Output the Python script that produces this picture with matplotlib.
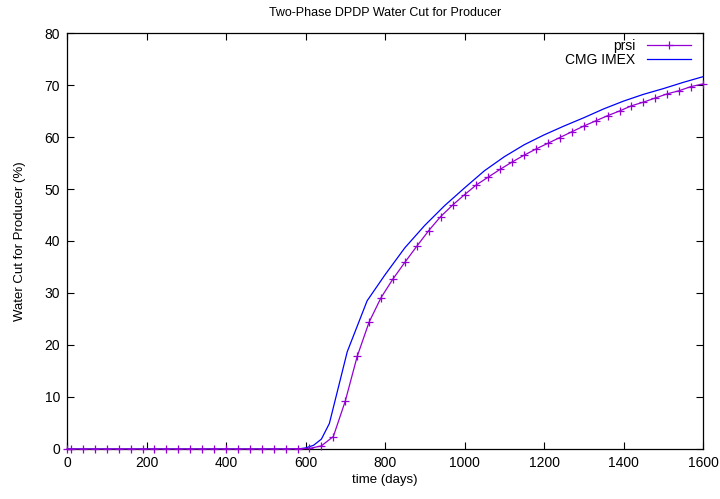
import numpy as np
from matplotlib import pyplot as plt

plt.rcParams['font.family'] = ['Liberation Sans', 'DejaVu Sans']

# prsi results (markers every 30 days)
prsi_time = [0, 10, 40, 70, 100, 130, 160, 190, 220, 250, 280, 310, 340, 370,
             400, 430, 460, 490, 520, 550, 580, 610, 640, 670, 700, 730, 760,
             790, 820, 850, 880, 910, 940, 970, 1000, 1030, 1060, 1090, 1120,
             1150, 1180, 1210, 1240, 1270, 1300, 1330, 1360, 1390, 1420, 1450,
             1480, 1510, 1540, 1570, 1600]
prsi_wcut = [0, 0, 0, 0, 0, 0, 0, 0, 0, 0, 0, 0, 0, 0,
             0, 0, 0, 0, 0, 0, 0.05, 0.1, 0.6, 2.4, 9.2, 17.8, 24.4,
             29.1, 32.7, 35.9, 39.0, 42.0, 44.7, 46.9, 48.9, 50.8, 52.3, 53.8, 55.2,
             56.5, 57.7, 58.8, 59.9, 61.0, 62.1, 63.1, 64.1, 65.0, 66.0, 66.7,
             67.5, 68.3, 68.9, 69.7, 70.2]

# CMG IMEX reference
cmg_time = [0, 580, 600, 620, 640, 660, 705, 755, 800, 850, 900, 950, 1000,
            1050, 1100, 1150, 1200, 1250, 1300, 1350, 1400, 1450, 1500, 1550,
            1600]
cmg_wcut = [0, 0, 0.2, 0.7, 1.9, 4.9, 18.7, 28.5, 33.5, 38.7, 43.0, 46.8, 50.2,
            53.5, 56.2, 58.5, 60.4, 62.1, 63.7, 65.4, 66.9, 68.2, 69.3, 70.5,
            71.6]

fig = plt.figure(figsize=(7.2, 4.99), dpi=100)
ax = fig.add_axes([67 / 720, 50 / 499, 636 / 720, 416 / 499])

ax.plot(prsi_time, prsi_wcut, color='#9400d3', lw=0.9, marker='+',
        markersize=6, markeredgewidth=0.9, label='prsi', clip_on=False, zorder=3)
ax.plot(cmg_time, cmg_wcut, color='#0000ff', lw=0.9, label='CMG IMEX')

ax.set_xlim(0, 1600)
ax.set_ylim(0, 80)
ax.set_xticks(np.arange(0, 1601, 200))
ax.set_yticks(np.arange(0, 81, 10))
ax.tick_params(direction='in', top=True, right=True, length=5, width=0.8,
               labelsize=10, pad=5)
for sp in ax.spines.values():
    sp.set_linewidth(0.9)

ax.set_title('Two-Phase DPDP Water Cut for Producer', fontsize=9, pad=12)
ax.set_xlabel('time (days)', fontsize=9.5, labelpad=3)
ax.set_ylabel('Water Cut for Producer (%)', fontsize=9.5, labelpad=13)

ax.legend(loc='upper right', frameon=False, markerfirst=False, fontsize=10,
          handlelength=3.2, handletextpad=0.8, labelspacing=0.05,
          borderaxespad=0.0, bbox_to_anchor=(0.99, 1.0))

fig.savefig('out.png', dpi=100)
